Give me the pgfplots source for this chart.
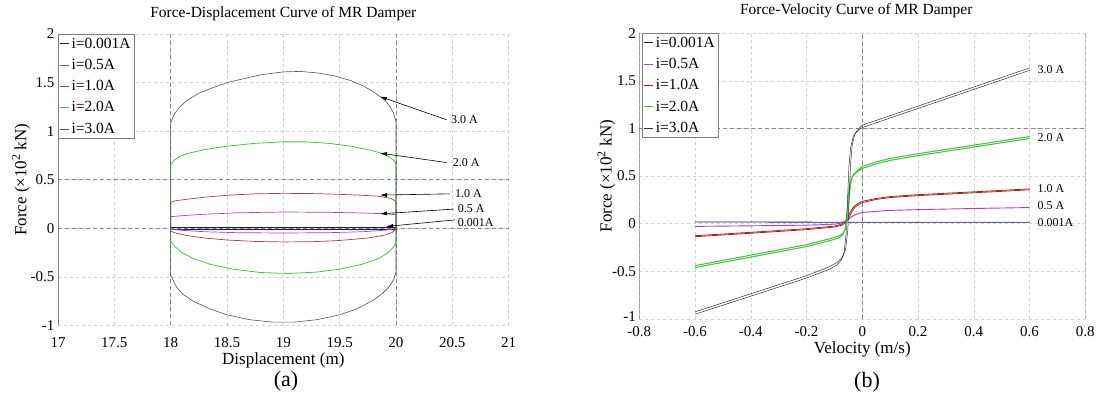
\documentclass[border=0pt]{standalone}
\usepackage{fontspec}
\setmainfont{Liberation Serif}
\usepackage{pgfplots}
\pgfplotsset{compat=1.18}
\usetikzlibrary{arrows.meta}
\definecolor{cNavy}{HTML}{1C1C5C}
\definecolor{cMag}{HTML}{B040C0}
\definecolor{cRedL}{HTML}{A0463E}
\definecolor{cRed}{HTML}{B02020}
\definecolor{cGreen}{HTML}{4CC44C}
\definecolor{cGray}{HTML}{555555}
\pgfplotsset{
  mystyle/.style={
    scale only axis, anchor=south west,
    axis line style={draw=none},
    major tick length=0pt,
    grid=major,
    grid style={dash pattern=on 3pt off 3pt, color=black!18, line width=0.5pt},
    tick label style={font=\rmfamily\fontsize{15}{17}\selectfont},
    /pgf/number format/assume math mode=true,
    title style={font=\rmfamily\fontsize{15.5}{18}\selectfont, anchor=base, at={(0.5,1)}},
    xlabel style={font=\rmfamily\fontsize{17}{19}\selectfont, at={(axis description cs:0.5,0)}, anchor=center},
    ylabel style={font=\rmfamily\fontsize{17}{19}\selectfont, at={(axis description cs:0,0.5)}, anchor=center},
    legend cell align=left,
    legend style={draw=gray, fill=white, font=\rmfamily\fontsize{15.5}{17}\selectfont, inner sep=1.5pt, row sep=5.5pt},
    legend image code/.code={\draw[#1] (0pt,0pt) -- (9pt,0pt);},
    extra tick style={grid style={dash pattern=on 4pt off 3pt, color=black!45, line width=0.6pt}},
  }
}
\begin{document}
\begin{tikzpicture}
\useasboundingbox (0,0) rectangle (1104pt,396pt);
% ---------------- (a) ----------------
\begin{axis}[mystyle,
  at={(58pt,70.5pt)}, width=450.6pt, height=291.5pt,
  xmin=17, xmax=21, ymin=-1, ymax=2,
  xtick={17,17.5,18,18.5,19,19.5,20,20.5,21},
  ytick={-1,-0.5,0,0.5,1,1.5,2},
  extra x ticks={18,20}, extra x tick labels={},
  extra y ticks={0,0.5}, extra y tick labels={},
  xticklabel style={anchor=center, yshift=-17.5pt},
  title={Force-Displacement Curve of MR Damper},
  title style={yshift=10pt},
  xlabel={Displacement (m)}, xlabel style={yshift=-34.5pt},
  ylabel={Force (×10\textsuperscript{2} kN)}, ylabel style={yshift=37pt},
  legend style={at={(axis description cs:0,1)}, anchor=north west},
]
\addplot[cNavy, line width=0.5pt] coordinates {(18,-0.005) (18,0.012) (20,0.012) (20,-0.005) (18,-0.005)};
\addlegendentry{i=0.001A}
\addplot[cMag, line width=0.7pt] coordinates {(18,-0.01) (18,0.12) (18.1,0.13) (18.3,0.145) (18.6,0.16) (19,0.168) (19.4,0.165) (19.7,0.158) (19.9,0.15) (20,0.14) (20,0.0) (19.9,-0.02) (19.7,-0.035) (19.4,-0.045) (19,-0.048) (18.6,-0.045) (18.3,-0.035) (18.1,-0.02) (18,-0.01)};
\addlegendentry{i=0.5A}
\addplot[cRedL, line width=0.7pt] coordinates {(18,-0.03) (18,0.27) (18.05,0.285) (18.15,0.3) (18.3,0.32) (18.5,0.34) (18.75,0.355) (19,0.36) (19.25,0.358) (19.5,0.35) (19.7,0.34) (19.85,0.33) (19.95,0.31) (20,0.28) (20,-0.01) (19.97,-0.04) (19.9,-0.07) (19.75,-0.1) (19.5,-0.125) (19.25,-0.138) (19,-0.14) (18.75,-0.135) (18.5,-0.12) (18.3,-0.1) (18.15,-0.075) (18.05,-0.05) (18,-0.03)};
\addlegendentry{i=1.0A}
\addplot[cGreen, line width=0.8pt] coordinates {(18,-0.13) (18,0.65) (18.03,0.7) (18.08,0.74) (18.15,0.77) (18.3,0.81) (18.5,0.845) (18.75,0.875) (19,0.89) (19.2,0.89) (19.4,0.875) (19.6,0.845) (19.75,0.81) (19.85,0.78) (19.92,0.75) (19.97,0.71) (20,0.67) (20,-0.14) (19.98,-0.19) (19.93,-0.25) (19.85,-0.31) (19.7,-0.37) (19.5,-0.42) (19.3,-0.45) (19.05,-0.465) (18.8,-0.455) (18.55,-0.42) (18.35,-0.37) (18.2,-0.31) (18.1,-0.25) (18.04,-0.19) (18,-0.13)};
\addlegendentry{i=2.0A}
\addplot[cGray, line width=0.6pt] coordinates {(18,-0.48) (18,1.08) (18.03,1.17) (18.08,1.25) (18.15,1.32) (18.25,1.39) (18.38,1.45) (18.5,1.5) (18.65,1.54) (18.8,1.58) (19,1.61) (19.15,1.615) (19.3,1.6) (19.45,1.57) (19.6,1.52) (19.72,1.46) (19.82,1.39) (19.9,1.32) (19.95,1.25) (19.98,1.18) (20,1.1) (20,-0.45) (19.98,-0.53) (19.94,-0.6) (19.88,-0.67) (19.8,-0.74) (19.65,-0.83) (19.5,-0.89) (19.3,-0.94) (19.1,-0.965) (18.9,-0.965) (18.7,-0.94) (18.5,-0.89) (18.35,-0.83) (18.2,-0.75) (18.1,-0.67) (18.05,-0.6) (18.02,-0.53) (18,-0.48)};
\addlegendentry{i=3.0A}
\draw[gray, line width=0.6pt] (rel axis cs:0,0) -- (rel axis cs:0,1);
\begin{scope}[font=\fontsize{12}{14}\selectfont, -{Latex[length=7pt,width=4pt]}, line width=0.6pt]
\draw (axis cs:20.45,1.117) -- (axis cs:19.858,1.356);
\draw (axis cs:20.45,0.677) -- (axis cs:19.858,0.774);
\draw (axis cs:20.48,0.355) -- (axis cs:19.858,0.342);
\draw (axis cs:20.515,0.198) -- (axis cs:19.858,0.149);
\draw (axis cs:20.524,0.087) -- (axis cs:19.913,0.019);
\end{scope}
\begin{scope}[font=\fontsize{12}{14}\selectfont]
\node[anchor=west, inner sep=1pt] at (axis cs:20.48,1.12) {3.0 A};
\node[anchor=west, inner sep=1pt] at (axis cs:20.495,0.677) {2.0 A};
\node[anchor=west, inner sep=1pt] at (axis cs:20.515,0.355) {1.0 A};
\node[anchor=west, inner sep=1pt] at (axis cs:20.54,0.208) {0.5 A};
\node[anchor=west, inner sep=1pt] at (axis cs:20.54,0.064) {0.001A};
\end{scope}
\end{axis}
% ---------------- (b) ----------------
\begin{axis}[mystyle,
  at={(639.3pt,77pt)}, width=446pt, height=285.8pt,
  xmin=-0.8, xmax=0.8, ymin=-1, ymax=2,
  xtick={-0.8,-0.6,-0.4,-0.2,0,0.2,0.4,0.6,0.8},
  xticklabels={-0.8,-0.6,-0.4,-0.2,0,0.2,0.4,0.6,0.8},
  ytick={-1,-0.5,0,0.5,1,1.5,2},
  yticklabels={\raisebox{5pt}{-1},-0.5,0,0.5,1,1.5,2},
  extra x ticks={0}, extra x tick labels={},
  extra y ticks={1}, extra y tick labels={},
  xticklabel style={anchor=center, yshift=-12.5pt},
  title={Force-Velocity Curve of MR Damper},
  title style={yshift=12.5pt, xshift=-6pt},
  xlabel={Velocity (m/s)}, xlabel style={yshift=-30pt},
  ylabel={Force (×10\textsuperscript{2} kN)}, ylabel style={yshift=33pt},
  legend style={at={(axis description cs:0.006,1)}, anchor=north west},
]
\addplot[cNavy, line width=0.8pt] coordinates {(-0.6,0.018) (0,0.016) (0.6,0.016)};
\addlegendentry{i=0.001A}
\addplot[cMag, line width=0.9pt] coordinates {(-0.6,-0.028) (-0.4,-0.022) (-0.2,-0.015) (-0.1,-0.005) (-0.07,0.01) (-0.055,0.035) (-0.04,0.07) (-0.025,0.095) (-0.01,0.11) (0,0.118) (0.05,0.13) (0.1,0.14) (0.2,0.148) (0.4,0.16) (0.6,0.17)};
\addlegendentry{i=0.5A}
\addplot[cRed, line width=0.8pt] coordinates {(-0.6,-0.126) (-0.4,-0.09) (-0.2,-0.052) (-0.1,-0.025) (-0.075,-0.005) (-0.06,0.03) (-0.05,0.08) (-0.04,0.14) (-0.03,0.18) (-0.015,0.215) (0,0.235) (0.05,0.265) (0.1,0.285) (0.2,0.305) (0.3,0.32) (0.4,0.335) (0.5,0.35) (0.6,0.366)};
\addlegendentry{i=1.0A}
\addplot[cGreen, line width=1.1pt] coordinates {(-0.6,-0.46) (-0.5,-0.405) (-0.4,-0.35) (-0.3,-0.295) (-0.2,-0.24) (-0.12,-0.18) (-0.085,-0.15) (-0.07,-0.12) (-0.062,-0.06) (-0.056,0.08) (-0.05,0.3) (-0.044,0.43) (-0.035,0.5) (-0.02,0.54) (0,0.58) (0.05,0.63) (0.1,0.665) (0.2,0.715) (0.3,0.76) (0.4,0.805) (0.5,0.85) (0.6,0.895)};
\addlegendentry{i=2.0A}
\addplot[black!80, line width=0.5pt] coordinates {(-0.6,-0.95) (-0.5,-0.855) (-0.4,-0.76) (-0.3,-0.665) (-0.2,-0.57) (-0.12,-0.48) (-0.09,-0.43) (-0.075,-0.38) (-0.065,-0.3) (-0.058,-0.1) (-0.053,0.25) (-0.048,0.6) (-0.042,0.8) (-0.032,0.92) (-0.015,0.98) (0,1.01) (0.05,1.06) (0.1,1.11) (0.2,1.21) (0.3,1.31) (0.4,1.41) (0.5,1.51) (0.6,1.61)};
\addlegendentry{i=3.0A}
% second branches of the loops
\addplot[forget plot, cRed, line width=0.8pt] coordinates {(-0.6,-0.136) (-0.4,-0.1) (-0.2,-0.062) (-0.1,-0.035) (-0.072,-0.015) (-0.057,0.02) (-0.047,0.07) (-0.037,0.13) (-0.027,0.17) (-0.012,0.205) (0,0.222) (0.05,0.255) (0.1,0.275) (0.2,0.295) (0.3,0.31) (0.4,0.325) (0.5,0.34) (0.6,0.356)};
\addplot[forget plot, cGreen, line width=1.1pt] coordinates {(-0.6,-0.44) (-0.5,-0.385) (-0.4,-0.33) (-0.3,-0.275) (-0.2,-0.22) (-0.12,-0.16) (-0.085,-0.13) (-0.068,-0.1) (-0.058,-0.04) (-0.052,0.1) (-0.046,0.32) (-0.04,0.45) (-0.031,0.52) (-0.016,0.56) (0,0.6) (0.05,0.65) (0.1,0.685) (0.2,0.735) (0.3,0.78) (0.4,0.825) (0.5,0.87) (0.6,0.915)};
\addplot[forget plot, black!80, line width=0.5pt] coordinates {(-0.6,-0.925) (-0.5,-0.83) (-0.4,-0.735) (-0.3,-0.64) (-0.2,-0.545) (-0.12,-0.455) (-0.09,-0.405) (-0.072,-0.355) (-0.06,-0.27) (-0.052,-0.07) (-0.047,0.28) (-0.042,0.63) (-0.036,0.83) (-0.026,0.95) (-0.01,1.005) (0,1.035) (0.05,1.085) (0.1,1.135) (0.2,1.235) (0.3,1.335) (0.4,1.435) (0.5,1.535) (0.6,1.635)};
\draw[gray, line width=0.7pt] (rel axis cs:0,1) -- (rel axis cs:0,0) -- (rel axis cs:1,0) -- (rel axis cs:1,1);
\begin{scope}[font=\fontsize{12}{14}\selectfont]
\node[anchor=west, inner sep=1pt] at (axis cs:0.625,1.62) {3.0 A};
\node[anchor=west, inner sep=1pt] at (axis cs:0.625,0.90) {2.0 A};
\node[anchor=west, inner sep=1pt] at (axis cs:0.625,0.37) {1.0 A};
\node[anchor=west, inner sep=1pt] at (axis cs:0.625,0.19) {0.5 A};
\node[anchor=west, inner sep=1pt] at (axis cs:0.625,0.01) {0.001A};
\end{scope}
\end{axis}
\node[font=\fontsize{22}{24}\selectfont] at (286pt,15pt) {(a)};
\node[font=\fontsize{22}{24}\selectfont] at (867pt,14pt) {(b)};
\end{tikzpicture}
\end{document}
